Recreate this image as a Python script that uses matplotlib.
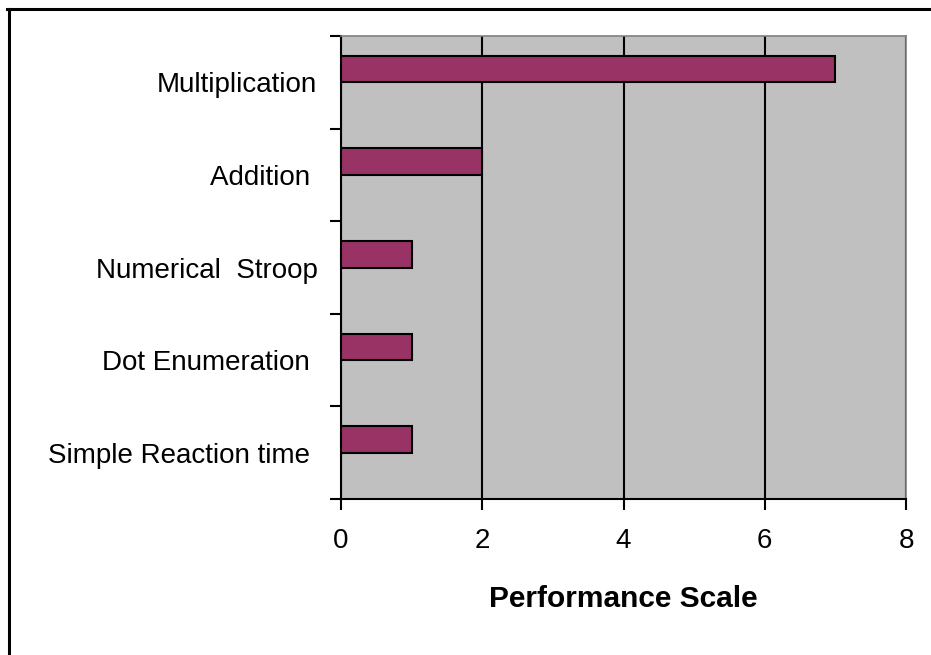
"""
  performance scale per task, horizontal bar chart
"""
import numpy as np
import matplotlib
matplotlib.use('Agg')
from matplotlib import pyplot as plt
from matplotlib.lines import Line2D

# categories from bottom to top, trailing spaces keep the label offsets
tasks = ['Simple Reaction time ', 'Dot Enumeration ', 'Numerical  Stroop',
         'Addition ', 'Multiplication']
scores = [1, 1, 1, 2, 7]
xticks = [0, 2, 4, 6, 8]

plt.rcParams['font.family'] = ['Liberation Sans', 'DejaVu Sans']

fig = plt.figure(figsize=(9.31, 6.55), dpi=100)
ax = fig.add_axes([341/931, 1-499/655, 565/931, 463/655])
ax.set_facecolor('#c0c0c0')

ypos = np.arange(len(tasks))
# bars sit in the upper slot of each category
ax.barh(ypos + 0.143, scores, height=0.286, color='#993366',
        edgecolor='black', linewidth=1.5, zorder=3)

ax.set_xlim(0, 8)
ax.set_ylim(-0.5, len(tasks) - 0.5)
ax.set_xticks(xticks)
ax.set_xticklabels([str(t) for t in xticks], fontsize=20)
ax.xaxis.grid(True, color='black', linewidth=1.5, zorder=1)
ax.set_axisbelow(True)

# ticks on category boundaries, labels on category centres
ax.set_yticks(np.arange(len(tasks) + 1) - 0.5)
ax.set_yticklabels([])
ax.set_yticks(ypos, minor=True)
ax.set_yticklabels(tasks, minor=True, fontsize=20)
ax.tick_params(axis='y', which='major', length=8, width=1.5, direction='out')
ax.tick_params(axis='y', which='minor', length=0, pad=17)
ax.tick_params(axis='x', length=8, width=1.5, direction='out', pad=13)

for side in ['left', 'bottom']:
    ax.spines[side].set_linewidth(1.5)
    ax.spines[side].set_color('black')
for side in ['top', 'right']:
    ax.spines[side].set_linewidth(1.2)
    ax.spines[side].set_color('#808080')

ax.set_xlabel('Performance Scale', fontsize=21.5, fontweight='bold', labelpad=22)

# chart area frame
fig.add_artist(Line2D([8.5/931, 8.5/931], [0, 1-8.5/655], color='black',
                      linewidth=2.2, transform=fig.transFigure))
fig.add_artist(Line2D([7/931, 1], [1-8.5/655, 1-8.5/655], color='black',
                      linewidth=2.2, transform=fig.transFigure))

fig.savefig('out.png', dpi=100)
